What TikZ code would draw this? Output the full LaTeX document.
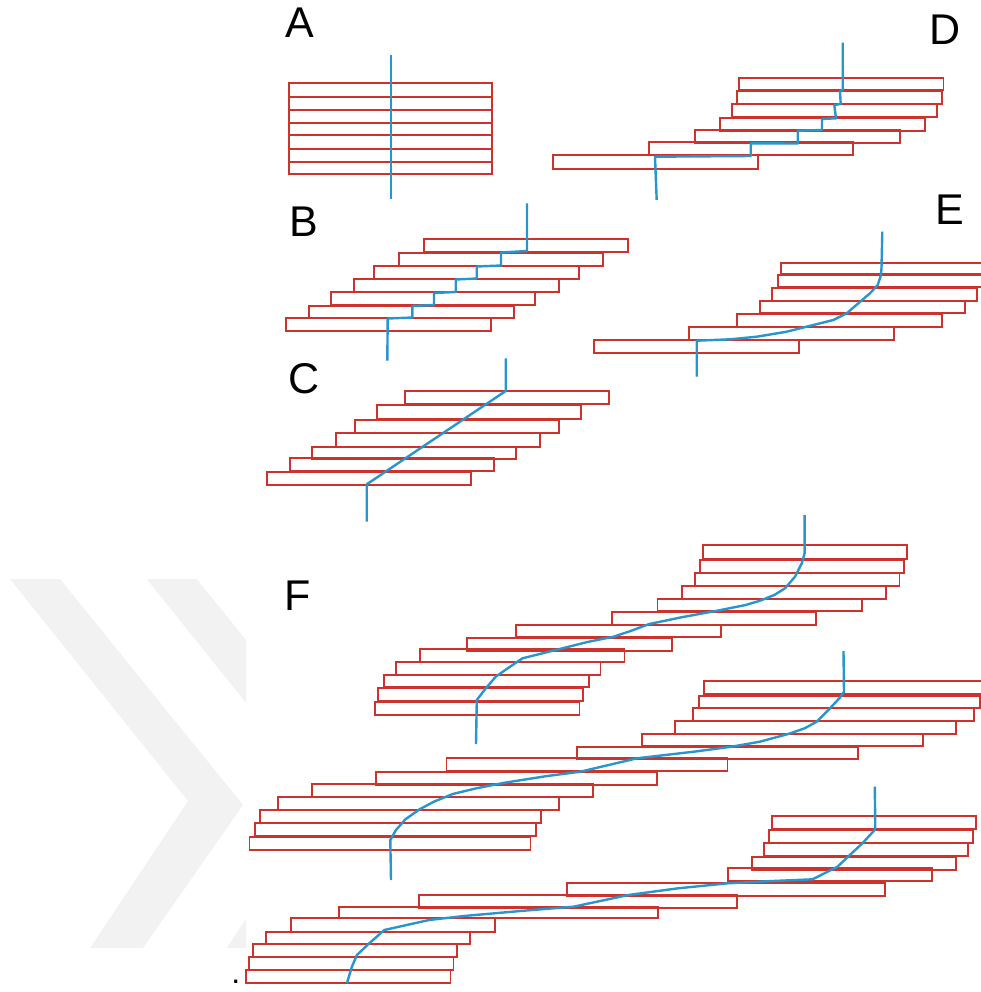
\documentclass[tikz,border=0pt]{standalone}
\usepackage{fontspec}
\setmainfont{Liberation Sans}
\definecolor{stripred}{RGB}{205,50,45}
\definecolor{faultblue}{RGB}{40,150,205}
\tikzset{
  strip/.style={draw=stripred, line width=0.95pt},
  fault/.style={draw=faultblue, line width=1.2pt, line join=round, line cap=butt},
  lab/.style={anchor=base west, inner sep=0pt, outer sep=0pt, font=\fontsize{21.5}{25}\selectfont},
  wm/.style={fill=black!5}
}
\begin{document}
\begin{tikzpicture}[x=0.5pt, y=-0.5pt]
\useasboundingbox (0,0) rectangle (981,992);
\clip (0,0) rectangle (981,992);
% faint watermark
\begin{scope}
\clip (0,0) rectangle (246,992);
\fill[wm] (10,579)--(60,579)--(243,805)--(143,948)--(90,948)--(188,801)--cycle;
\fill[wm] (146.7,579)--(196.7,579)--(379.7,805)--(279.7,948)--(226.7,948)--(324.7,801)--cycle;
\end{scope}
% labels
\node[lab] (labA) at (285,37) {A};
\node[lab] (labB) at (289,236.7) {B};
\node[lab] (labC) at (288.7,393.3) {C};
\node[lab] (labD) at (929.3,44) {D};
\node[lab] (labE) at (935,224.3) {E};
\node[lab] (labF) at (284,610) {F};
\node[anchor=base west, inner sep=0pt, font=\fontsize{16}{18}\selectfont] (dot) at (231,983.3) {.};
% ---- A
\foreach \a/\b in {82.7/97.3, 97.3/110, 110/122.7, 122.7/135.3, 135.3/148.7, 148.7/161.7, 161.7/174}
  \draw[strip] (289,\a) rectangle (492,\b);
\draw[fault] (390.7,55) -- (390.7,199);
% ---- B
\foreach \x/\a/\b in {423.7/239.3/252, 398.7/252.7/265.7, 374.3/266/279, 354/279.3/291.7, 330.7/292.3/305.3, 309/306/317.7, 286/318.3/331.3}
  \draw[strip] (\x,\a) rectangle ({\x+204.6},\b);
\draw[fault] (527,203.3) -- (527,251) -- (501,252.5) -- (501,265.5) -- (476.7,266.5) -- (476.7,278.5) -- (455.7,279.5) -- (455.7,292) -- (434,293) -- (434,305) -- (412.3,306) -- (412.3,317.5) -- (387.7,318.5) -- (387.3,360.7);
% ---- C
\foreach \x/\a/\b in {405/391/404, 377/405.3/418.7, 355/420/432.7, 335.7/433.3/446.7, 312/446.7/459.3, 290/458.3/471, 266.7/472/485}
  \draw[strip] (\x,\a) rectangle ({\x+204.3},\b);
\draw[fault] (505.7,358.3) -- (505.7,391) -- (366.7,484.3) -- (366.7,521.7);
% ---- D
\foreach \x/\a/\b in {739/77.7/90, 737.3/91/104, 732.3/104.3/117.3, 720.3/117.7/130.7, 695.3/130/142.7, 648.7/142.3/155, 553.3/155.3/169}
  \draw[strip] (\x,\a) rectangle ({\x+204.5},\b);
\draw[fault] (842.7,42.7) -- (842.7,90) -- (840,91) -- (840.7,104) -- (834.3,105) -- (836,118.3) -- (822,119) -- (822,130) -- (797.7,130.7) -- (797.7,143.5) -- (750.7,143.3) -- (750.7,156) -- (655,156.7) -- (656.7,200);
% ---- E
\foreach \x/\a/\b in {780.7/262.7/274, 778.3/275.3/287.3, 772.3/288/300.7, 760.3/300.7/313.3, 737/314/326.7, 689/327/340, 594/340.3/353.3}
  \draw[strip] (\x,\a) rectangle ({\x+204.6},\b);
\draw[fault] (882.3,231.7) -- (881.5,268) -- (881,275) -- (877.7,285) -- (870,293.3) -- (858.3,303.3) -- (846.7,313.3) -- (833.3,320) -- (813.3,325) -- (786.7,331.7) -- (756.7,336.7) -- (730,339.3) -- (696.7,340.7) -- (696.7,376.7);
% ---- F top
\foreach \x/\a/\b in {702.9/545.3/558.7, 699.6/560/572.7, 695/573.3/586, 681.8/586/599, 657.5/599/611.3, 611.8/612/624.7, 516.1/624.7/637.3, 467.1/638/651.3, 420/649.3/662, 396/662/674.7, 384.3/675/687, 378.2/687.7/700.7, 375/701.7/715}
  \draw[strip] (\x,\a) rectangle ({\x+204.5},\b);
\draw[fault] (804.6,515) -- (804.6,553.3) -- (801.8,563.3) -- (795,576.7) -- (785,588.3) -- (774.3,595) -- (760,600.7) -- (745.7,605) -- (717.1,610.7) -- (681.4,617.3) -- (649.3,624) -- (631.4,630.7) -- (613.6,636.7) -- (588.6,641.7) -- (552.9,650.7) -- (522.5,658.3) -- (510,666.7) -- (495.7,676.7) -- (485,689.3) -- (476.8,700) -- (476,744);
% ---- F middle
\foreach \x/\a/\b in {704.1/681.3/694.3, 698.9/696/708.3, 692.7/708.3/721, 674.8/721/734, 641.7/734/746, 577/746.7/759.3, 446.5/758.3/771, 376.1/771.7/785, 312.3/784/797.3, 278.3/797.3/810, 260.3/810/822.7, 255.1/823.3/836, 249.5/836.7/850}
  \draw[strip] (\x,\a) rectangle ({\x+281},\b);
\draw[fault] (843.5,651) -- (844,691.7) -- (840.2,697.3) -- (828.4,710) -- (816.6,721.7) -- (804.7,728.3) -- (788.2,734) -- (759.8,741.7) -- (731.5,746.7) -- (693.7,751.7) -- (665.3,755) -- (637,758.3) -- (608.6,765) -- (580.3,771.7) -- (547.2,776) -- (504.7,782.7) -- (476.3,788.3) -- (452.7,794) -- (433.8,801.7) -- (419.6,809.3) -- (405.4,819.3) -- (396,830) -- (390.3,840) -- (391,880);
% ---- F bottom
\foreach \x/\a/\b/\w in {771.7/816/829.3/204.2, 768.7/830/842.7/204.2, 763.7/842.7/856/204.2, 751.8/856.7/870/204.2, 727.9/868.3/881/204.2, 567/882.7/896/318.3, 419.1/895/907.7/318.3, 339.4/906.7/917.7/318.3, 291.1/917.7/931.7/204.2, 265.7/931.7/944/204.2, 252.8/944/956.7/204.2, 249.3/956.7/970/204.2, 246.3/970/983.3/204.2}
  \draw[strip] (\x,\a) rectangle ({\x+\w},\b);
\draw[fault] (874.8,786.7) -- (875.3,829.3) -- (862.4,843.3) -- (847.4,857.3) -- (837.5,866.7) -- (812.5,879.3) -- (772.7,881) -- (727.9,883.3) -- (678.1,888.3) -- (628.3,895) -- (573.5,906.7) -- (523.7,910.7) -- (463.9,916) -- (429.1,920) -- (384.3,930) -- (369.3,943.3) -- (356.9,955) -- (351.9,966.7) -- (346.9,983.3);
\end{tikzpicture}
\end{document}
